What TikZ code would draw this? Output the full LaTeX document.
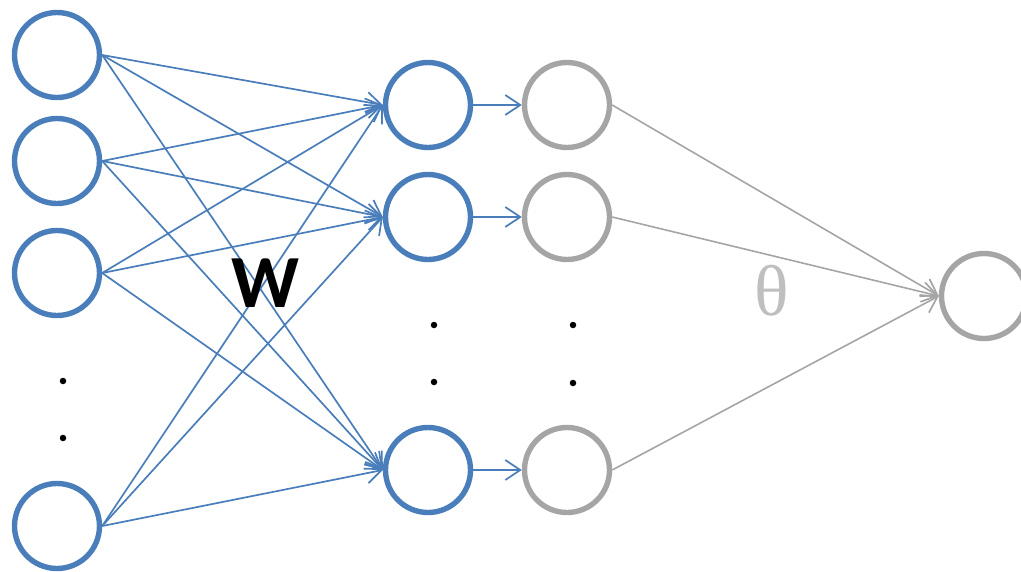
\documentclass[tikz,border=0pt]{standalone}
\usepackage{fontspec}
\newfontfamily\labelsans{Carlito}
\newfontfamily\labelserif{Liberation Serif}
\usetikzlibrary{arrows.meta}
\definecolor{netblue}{HTML}{4A7EBB}
\definecolor{netgray}{HTML}{A5A5A5}
\definecolor{thetagray}{HTML}{BFBFBF}

\begin{document}
\begin{tikzpicture}[x=1pt,y=-1pt,
  unit/.style={circle, draw=#1, line width=5.4pt, minimum size=85pt, inner sep=0pt},
  blueunit/.style={unit=netblue},
  grayunit/.style={unit=netgray},
  tip/.style={-{Straight Barb[length=15pt,width=20pt,line width=1.7pt]}},
  blueedge/.style={tip, draw=netblue, line width=1.7pt},
  grayedge/.style={tip, draw=netgray, line width=1.6pt},
  dot/.style={circle, fill=black, inner sep=0pt, minimum size=6.5pt}
]
\useasboundingbox (0,0) rectangle (1021,571);

% input layer
\node[blueunit] (i1) at (57,55) {};
\node[blueunit] (i2) at (57,161) {};
\node[blueunit] (i3) at (57,273) {};
\node[blueunit] (i4) at (57,526) {};
\node[dot] (id1) at (63,381) {};
\node[dot] (id2) at (63,438) {};

% hidden layer
\node[blueunit] (h1) at (428,105) {};
\node[blueunit] (h2) at (428,217) {};
\node[blueunit] (h3) at (428,470) {};
\node[dot] (hd1) at (434,325) {};
\node[dot] (hd2) at (434,382) {};

% activations
\node[grayunit] (a1) at (567,105) {};
\node[grayunit] (a2) at (567,217) {};
\node[grayunit] (a3) at (567,470) {};
\node[dot] (ad1) at (573,325) {};
\node[dot] (ad2) at (573,383) {};

% output
\node[grayunit] (o) at (984,296) {};

% fully connected weights
\foreach \i in {i1,i2,i3,i4}
  \foreach \h in {h1,h2,h3}
    \draw[blueedge] (\i.east) -- (\h.west);

\foreach \k in {1,2,3}
  \draw[blueedge] (h\k.east) -- (a\k.west);

\foreach \k in {1,2,3}
  \draw[grayedge] (a\k.east) -- (o.west);

% labels
\node[font=\labelsans\bfseries\fontsize{75}{75}\selectfont] (W) at (265,283) {W};
\node[font=\labelserif\fontsize{72}{72}\selectfont, text=thetagray] (theta) at (772,291) {θ};
\end{tikzpicture}
\end{document}
